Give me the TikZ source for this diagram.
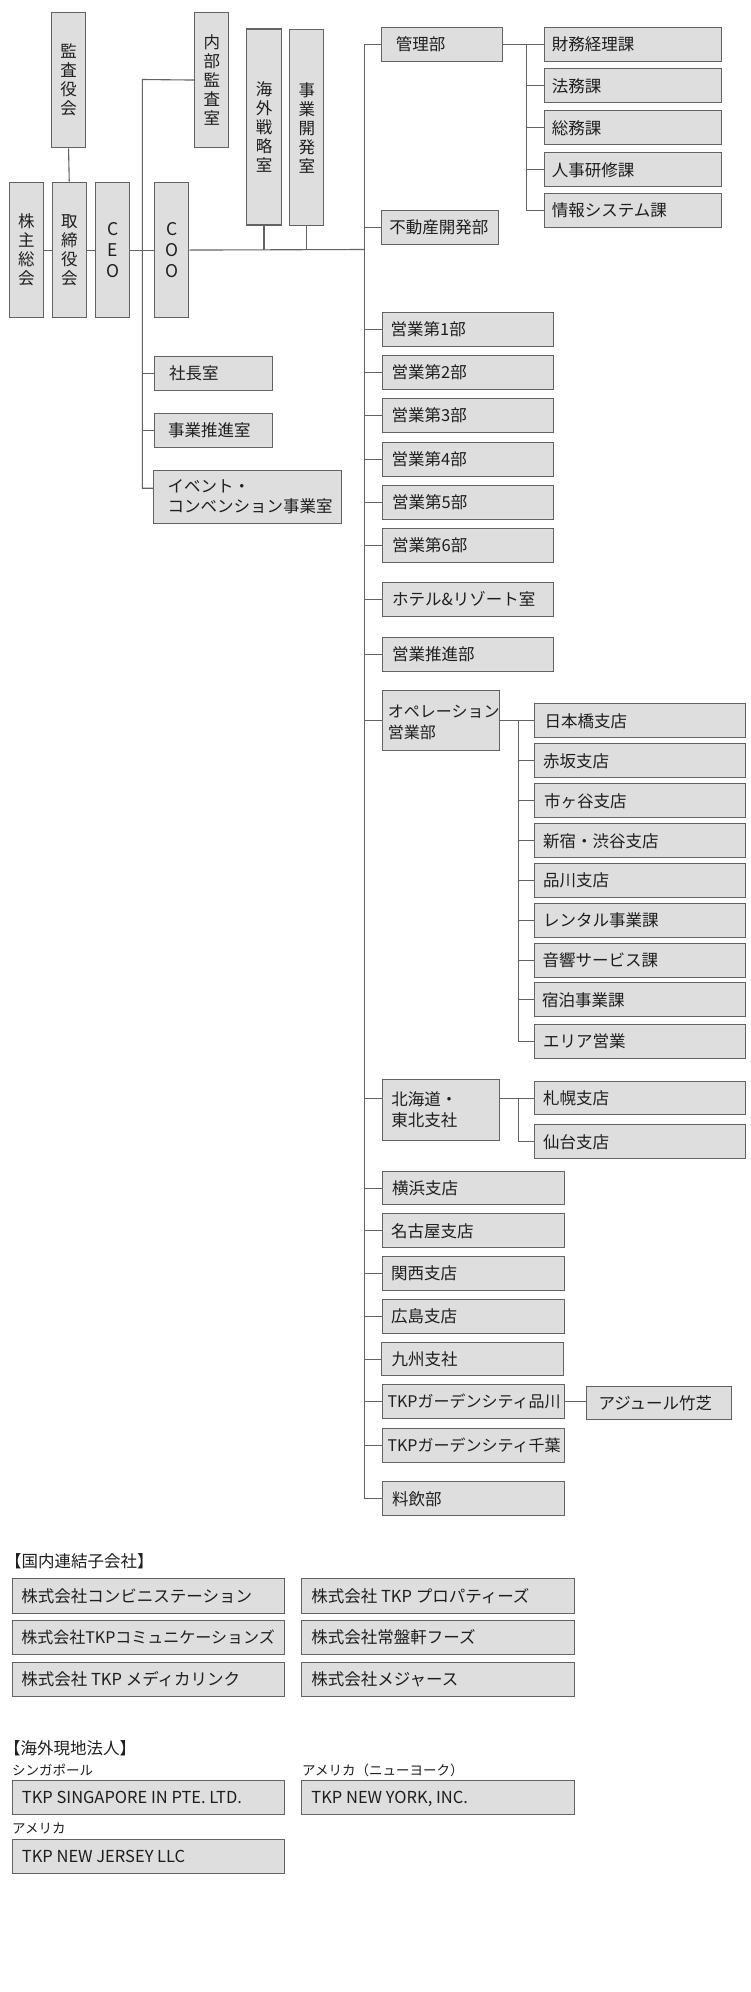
\documentclass[tikz,border=0pt]{standalone}
\usepackage{fontspec}
\setmainfont{Noto Sans CJK JP}
\usetikzlibrary{calc}
\definecolor{boxgray}{HTML}{DEDEDE}
\definecolor{linegray}{HTML}{636363}
\definecolor{textcol}{HTML}{1E1E1E}
\tikzset{
  orgbox/.style={draw=linegray, fill=boxgray, line width=1.1pt, anchor=north west, inner sep=0pt},
  lbl/.style={anchor=west, inner sep=0pt, text=textcol, font=\fontsize{16.5}{19}\selectfont, text height=14.5pt, text depth=2pt},
  mlbl/.style={anchor=west, inner sep=0pt, text=textcol, align=left},
  vtxt/.style={anchor=center, inner sep=0pt, text=textcol, align=center, font=\fontsize{16.5}{19}\selectfont},
  small/.style={anchor=west, inner sep=0pt, text=textcol, font=\fontsize{13.5}{15}\selectfont},
  narrow/.style={font=\fontsize{16}{19}\selectfont},
  conn/.style={draw=linegray, line width=1.1pt},
}
% name, x, y, w, h, pad, text
\newcommand{\orgnode}[8][]{%
  \node[orgbox, minimum width=#5pt, minimum height=#6pt] (#2) at (#3,#4) {};
  \node[lbl,#1] (#2-t) at ([xshift=#7pt]#2.west) {#8};}
\newcommand{\orgvbox}[6]{%
  \node[orgbox, minimum width=#4pt, minimum height=#5pt] (#1) at (#2,#3) {};
  \node[vtxt] (#1-t) at (#1.center) {#6};}
\begin{document}
\begin{tikzpicture}[x=1pt,y=-1pt]
\useasboundingbox (0,0) rectangle (750,1992);
\fill[white] (0,0) rectangle (750,1992);

% ---------- top management ----------
\orgvbox{kansa}{51}{11.7}{34}{135.6}{監\\査\\役\\会}
\orgvbox{kabu}{8.7}{181.7}{34}{135.6}{株\\主\\総\\会}
\orgvbox{tori}{51.7}{181.7}{34}{135.6}{取\\締\\役\\会}
\node[orgbox, minimum width=34pt, minimum height=135.6pt] (ceo) at (95.3,181.7) {};
\node[vtxt, font=\fontsize{17.5}{21}\selectfont] (ceo-t) at (ceo.center) {C\\E\\O};
\node[orgbox, minimum width=34pt, minimum height=135.6pt] (coo) at (154.3,181.7) {};
\node[vtxt, font=\fontsize{17.5}{21}\selectfont] (coo-t) at (coo.center) {C\\O\\O};
\orgvbox{naibu}{194.3}{11.7}{34}{135.6}{内\\部\\監\\査\\室}
\orgvbox{kaigai}{246.3}{28.4}{34.3}{196}{海\\外\\戦\\略\\室}
\orgvbox{jigyo}{289.3}{29}{34}{196}{事\\業\\開\\発\\室}

% left staff column
\orgnode{shacho}{154}{355.7}{117.7}{34}{15}{社長室}
\orgnode{suishin}{154}{412.7}{117.7}{34}{14}{事業推進室}
\node[orgbox, minimum width=187.4pt, minimum height=53pt] (event) at (153.3,469.7) {};
\node[mlbl, font=\fontsize{16.5}{20}\selectfont] (event-t) at ([xshift=14pt]event.west) {イベント・\\コンベンション事業室};

% ---------- right column ----------
\orgnode{kanri}{380.7}{26.7}{121.6}{34}{15}{管理部}
\orgnode{fudosan}{380.7}{209.7}{117.6}{34}{8.5}{不動産開発部}

\orgnode{zaimu}{543.7}{27}{177.3}{34}{8}{財務経理課}
\orgnode{homu}{543.7}{68.3}{177.3}{34}{8}{法務課}
\orgnode{somu}{543.7}{110.3}{177.3}{34}{8}{総務課}
\orgnode{jinji}{543.7}{152.3}{177.3}{34}{8}{人事研修課}
\orgnode{joho}{543.7}{193}{177.3}{34}{8}{情報システム課}

\orgnode{e1}{381.5}{311.7}{171}{34}{9}{営業第1部}
\orgnode{e2}{381.5}{355}{171}{34}{10}{営業第2部}
\orgnode{e3}{381.5}{397.7}{171}{34}{10}{営業第3部}
\orgnode{e4}{381.5}{441.7}{171}{34}{10}{営業第4部}
\orgnode{e5}{382}{485}{171}{34}{10}{営業第5部}
\orgnode{e6}{382}{528}{171}{34}{10}{営業第6部}
\orgnode{hotel}{382}{581.7}{171}{34}{10}{ホテル\&リゾート室}
\orgnode{esuishin}{382}{636.7}{171}{34}{10}{営業推進部}

\node[orgbox, minimum width=117.6pt, minimum height=60pt] (ope) at (381.7,690) {};
\node[mlbl, font=\fontsize{16}{21}\selectfont] (ope-t) at ([xshift=6pt,yshift=-1.5pt]ope.west) {オペレーション\\営業部};

\orgnode{nihonbashi}{534.3}{703.3}{211}{34}{10}{日本橋支店}
\orgnode{akasaka}{534.3}{743.3}{211}{34}{8.5}{赤坂支店}
\orgnode{ichigaya}{534.3}{783.3}{211}{34}{9.5}{市ヶ谷支店}
\orgnode{shinjuku}{534.3}{823.3}{211}{34}{8.5}{新宿・渋谷支店}
\orgnode{shinagawa}{534.3}{862.7}{211}{34}{8.5}{品川支店}
\orgnode{rental}{534.3}{903.3}{211}{33.5}{8.5}{レンタル事業課}
\orgnode{onkyo}{534.3}{942.7}{211}{34}{8}{音響サービス課}
\orgnode{shukuhaku}{534.3}{982.3}{211}{34}{7.5}{宿泊事業課}
\orgnode{area}{534.3}{1023.8}{211}{33.8}{8.5}{エリア営業}

\node[orgbox, minimum width=117.3pt, minimum height=60.7pt] (hokkaido) at (381.7,1079.3) {};
\node[mlbl, font=\fontsize{16.5}{21}\selectfont] (hokkaido-t) at ([xshift=9.5pt]hokkaido.west) {北海道・\\東北支社};
\orgnode{sapporo}{534.3}{1080.7}{211}{33.6}{8.5}{札幌支店}
\orgnode{sendai}{534.3}{1124.3}{211}{34}{8.5}{仙台支店}

\orgnode{yokohama}{382.3}{1170.7}{182}{33.6}{9.5}{横浜支店}
\orgnode{nagoya}{382.3}{1213.3}{182}{34}{8.5}{名古屋支店}
\orgnode{kansai}{382.3}{1256}{182}{34}{8.5}{関西支店}
\orgnode{hiroshima}{382.3}{1298.7}{182}{34}{8.5}{広島支店}
\orgnode{kyushu}{381.3}{1341.7}{182}{33.6}{10}{九州支社}
\orgnode[narrow]{tkpshina}{382.3}{1384}{182}{34.3}{5}{TKPガーデンシティ品川}
\orgnode{azure}{586.3}{1386.3}{144.7}{32.7}{12}{アジュール竹芝}
\orgnode[narrow]{tkpchiba}{382.3}{1427.7}{182}{34}{5}{TKPガーデンシティ千葉}
\orgnode{ryoin}{382.3}{1481.3}{182}{34}{9.5}{料飲部}

% ---------- connectors ----------
\coordinate (tj) at (364.3,249.5);
\coordinate (lv) at (142.3,79.5);
\coordinate (evj) at ([yshift=8.5pt]event.west);
\coordinate (kj) at (526.7,43.7);
\path (ope.east) ++(18pt,0pt) coordinate (oj);
\path (hokkaido.east |- sapporo.west) ++(18.3pt,0pt) coordinate (hj);

\draw[conn] (kansa.south) -- (tori.north);
\draw[conn] (kabu.east) -- (tori.west);
\draw[conn] (tori.east) -- (ceo.west);
\draw[conn] (ceo.east) -- (coo.west);
\draw[conn] (coo.east) -- (tj);
\draw[conn] (kaigai.south) -- (kaigai.south |- tj);
\draw[conn] (jigyo.south) -- (jigyo.south |- tj);

% left staff line
\draw[conn] (naibu.west) -- (lv) -- (lv |- evj) -- (evj);
\draw[conn] (shacho.west) -- (shacho.west -| lv);
\draw[conn] (suishin.west) -- (suishin.west -| lv);

% main trunk
\draw[conn] (kanri.west) -- (kanri.west -| tj) -- (ryoin.west -| tj) -- (ryoin.west);
\foreach \n in {fudosan,e1,e2,e3,e4,e5,e6,hotel,esuishin,ope,yokohama,nagoya,kansai,hiroshima,kyushu,tkpshina,tkpchiba}
  \draw[conn] (\n.west) -- (\n.west -| tj);
\draw[conn] (hokkaido.west |- sapporo.west) -- (sapporo.west -| tj);

% kanri sub-branch
\draw[conn] (kanri.east) -- (zaimu.west |- kanri.east);
\draw[conn] (kj) -- (kj |- joho.west) -- (joho.west);
\foreach \n in {homu,somu,jinji}
  \draw[conn] (\n.west) -- (\n.west -| kj);

% operation sub-branch
\draw[conn] (ope.east) -- (nihonbashi.west |- ope.east);
\draw[conn] (oj) -- (oj |- area.west) -- (area.west);
\foreach \n in {akasaka,ichigaya,shinjuku,shinagawa,rental,onkyo,shukuhaku}
  \draw[conn] (\n.west) -- (\n.west -| oj);

% hokkaido sub-branch
\draw[conn] (hokkaido.east |- sapporo.west) -- (sapporo.west);
\draw[conn] (hj) -- (hj |- sendai.west) -- (sendai.west);

% shinagawa -> azure
\draw[conn] (tkpshina.east) -- (azure.west |- tkpshina.east);

% ---------- subsidiaries ----------
\node[lbl] (hdr1) at (5,1561) {【国内連結子会社】};
\orgnode{d1}{11.7}{1578.3}{272.6}{34.3}{9.5}{株式会社コンビニステーション}
\orgnode[narrow]{d2}{11.7}{1620}{272.6}{34.3}{9.5}{株式会社TKPコミュニケーションズ}
\orgnode{d3}{11.7}{1661.7}{272.6}{34.3}{9.5}{株式会社 TKP メディカリンク}
\orgnode{d4}{300.7}{1578.3}{273}{34.3}{10.5}{株式会社 TKP プロパティーズ}
\orgnode{d5}{300.7}{1620}{273}{34.3}{10.5}{株式会社常盤軒フーズ}
\orgnode{d6}{300.7}{1661.7}{273}{34.3}{10.5}{株式会社メジャース}

\node[lbl] (hdr2) at (4,1748) {【海外現地法人】};
\node[small] (lsg) at (12,1770) {シンガポール};
\node[small] (lny) at (302,1770) {アメリカ（ニューヨーク）};
\node[small] (lnj) at (12,1828) {アメリカ};
\orgnode{o1}{11.7}{1780}{272.6}{34.3}{10}{TKP SINGAPORE IN PTE. LTD.}
\orgnode{o2}{300.7}{1780}{273}{34.3}{10.5}{TKP NEW YORK, INC.}
\orgnode{o3}{11.7}{1839}{272.6}{34}{10}{TKP NEW JERSEY LLC}
\end{tikzpicture}
\end{document}
